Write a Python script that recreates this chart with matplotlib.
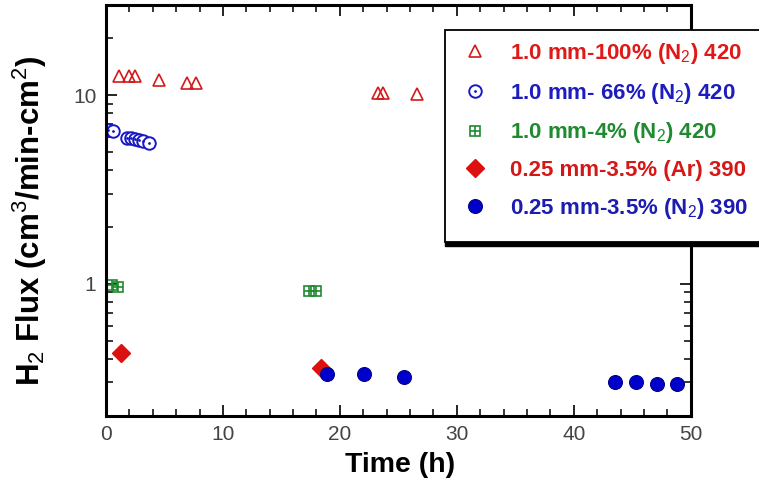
import matplotlib
matplotlib.use("Agg")
import matplotlib.pyplot as plt
from matplotlib.patches import Rectangle
from matplotlib.legend_handler import HandlerTuple
from matplotlib.ticker import LogLocator, NullFormatter, FixedLocator, FixedFormatter, MultipleLocator

plt.rcParams['font.family'] = ['Liberation Sans', 'DejaVu Sans']
plt.rcParams['mathtext.fontset'] = 'custom'
plt.rcParams['mathtext.rm'] = 'Liberation Sans'
plt.rcParams['mathtext.default'] = 'rm'

# ---- data ----
tri_x = [1.1, 2.0, 2.5, 4.5, 6.9, 7.7, 23.3, 23.7, 26.6]
tri_y = [12.6, 12.6, 12.6, 12.0, 11.6, 11.6, 10.3, 10.3, 10.1]
circ_x = [0.2, 0.6, 1.8, 2.1, 2.45, 2.8, 3.15, 3.7]
circ_y = [6.5, 6.45, 5.95, 5.9, 5.82, 5.75, 5.7, 5.58]
sq_x = [0.5, 1.0, 17.4, 18.0]
sq_y = [0.99, 0.96, 0.92, 0.92]
dia_x = [1.3, 18.4]
dia_y = [0.43, 0.357]
dot_x = [18.9, 22.1, 25.5, 43.5, 45.3, 47.1, 48.8]
dot_y = [0.331, 0.331, 0.32, 0.301, 0.301, 0.295, 0.295]

labels = [r"1.0 mm-100% (N$_2$) 420",
          r"1.0 mm- 66% (N$_2$) 420",
          r"1.0 mm-4% (N$_2$) 420",
          r"0.25 mm-3.5% (Ar) 390",
          r"0.25 mm-3.5% (N$_2$) 390"]
x_ticks = [0, 10, 20, 30, 40, 50]
y_ticks = [1, 10]
y_ticklabels = ["1", "10"]

RED = '#d41a1a'
BLUE = '#1818c8'
GREEN = '#1f8a30'
DRED = '#dd1010'
DBLUE = '#0000cc'
text_colors = ['#e01818', '#1c1cc0', '#1f8a30', '#d41818', '#1c1cb0']

W, H = 759, 486
fig = plt.figure(figsize=(W/100, H/100), dpi=100)
ax = fig.add_axes([106/W, 1-415.7/H, (690.7-106)/W, (415.7-5)/H])

h1, = ax.plot(tri_x, tri_y, ls='none', marker='^', ms=8.5, mfc='none', mec=RED, mew=1.2)
h2a, = ax.plot(circ_x, circ_y, ls='none', marker='o', ms=9, mfc='white', mec=BLUE, mew=1.4)
h2b, = ax.plot(circ_x, circ_y, ls='none', marker='.', ms=2, mfc=BLUE, mec=BLUE)
h3a, = ax.plot(sq_x, sq_y, ls='none', marker='s', ms=7.5, mfc='none', mec=GREEN, mew=1.2)
h3b, = ax.plot(sq_x, sq_y, ls='none', marker='+', ms=7.5, mec=GREEN, mew=1.2)
h4, = ax.plot(dia_x, dia_y, ls='none', marker='D', ms=9, mfc=DRED, mec=DRED)
h5, = ax.plot(dot_x, dot_y, ls='none', marker='o', ms=10, mfc=DBLUE, mec='#000088', mew=0.8)

ax.set_yscale('log')
ax.set_xlim(0, 50)
ax.set_ylim(0.2, 30)
ax.xaxis.set_major_locator(FixedLocator(x_ticks))
ax.xaxis.set_minor_locator(MultipleLocator(2))
ax.yaxis.set_major_locator(FixedLocator(y_ticks))
ax.yaxis.set_major_formatter(FixedFormatter(y_ticklabels))
ax.yaxis.set_minor_locator(LogLocator(base=10, subs=range(2, 10)))
ax.yaxis.set_minor_formatter(NullFormatter())

for s in ax.spines.values():
    s.set_linewidth(2.2)
ax.tick_params(which='both', direction='in', top=True, right=True, colors='black',
               labelcolor='#444444', labelsize=15)
ax.tick_params(which='major', length=8, width=1.2, pad=7)
ax.tick_params(which='minor', length=5, width=1.1)

ax.set_xlabel('Time (h)', fontsize=20.5, fontweight='bold')
ax.set_ylabel(r'H$_2$ Flux (cm$^3$/min-cm$^2$)', fontsize=22.5, fontweight='bold')
ax.xaxis.set_label_coords(0.503, -0.088)
ax.yaxis.set_label_coords(-0.097, 0.474)

# legend box with shadow
fig.add_artist(Rectangle((445/W, 1-246/H), (800-445)/W, (246-34)/H, transform=fig.transFigure,
                         facecolor='black', edgecolor='black', clip_on=False, zorder=4))
fig.add_artist(Rectangle((445/W, 1-242/H), (800-445)/W, (242-30)/H, transform=fig.transFigure,
                         facecolor='white', edgecolor='black', lw=1.3, clip_on=False, zorder=5))

fs = 16
leg = fig.legend([h1, (h2a, h2b), (h3a, h3b), h4, h5], labels,
                 handler_map={tuple: HandlerTuple(ndivide=1, pad=0)},
                 loc='upper left', bbox_to_anchor=(464/W, 1-41/H),
                 frameon=False, prop={'weight': 'bold', 'size': fs},
                 handlelength=1.0, handletextpad=1.05, labelspacing=0.66,
                 borderpad=0, borderaxespad=0)
leg.set_zorder(6)
for t, c in zip(leg.get_texts(), text_colors):
    t.set_color(c)

fig.savefig('out.png', dpi=100)
